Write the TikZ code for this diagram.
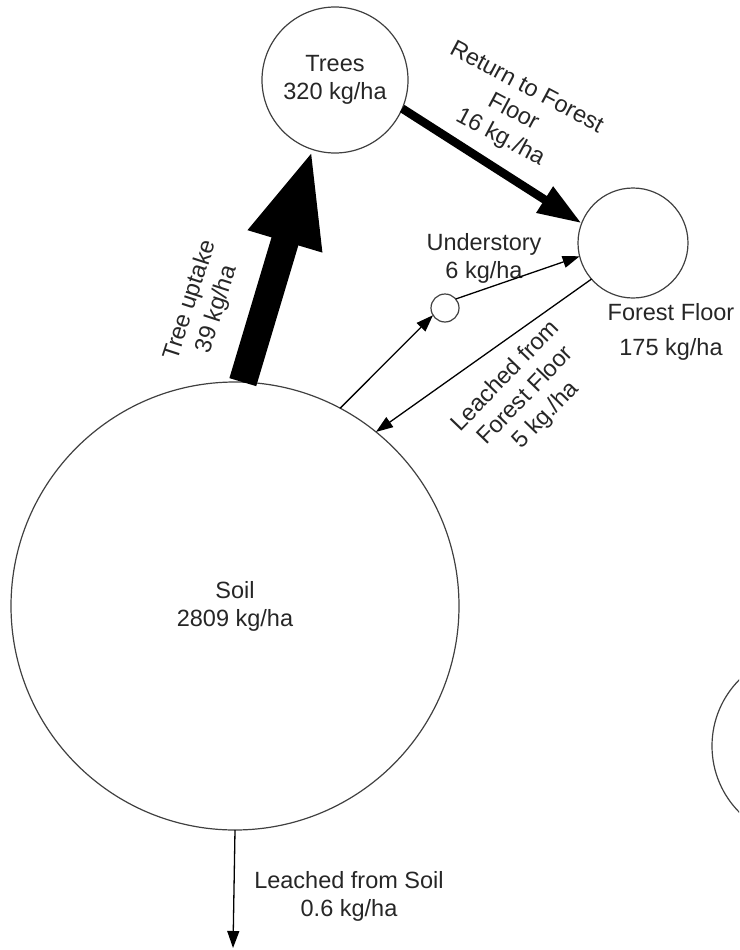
\documentclass[tikz,border=0pt]{standalone}
\usepackage{fontspec}
\setmainfont{Liberation Sans}
\usetikzlibrary{arrows.meta, positioning}

\begin{document}
\begin{tikzpicture}[x=1pt, y=-1pt, font=\fontsize{23.5}{28}\selectfont]
	% Styles
	\tikzstyle{pool} = [draw=black!75, line width=1.2pt, circle, inner sep=0pt, outer sep=0pt, align=center, text=black!85]
	\tikzstyle{lbl} = [align=center, text=black!85, inner sep=0pt]
	\tikzstyle{flow} = [line width=1.3pt, -{Triangle[length=17pt, width=12pt]}]
	\tikzstyle{midflow} = [line width=8.5pt, -{Triangle[length=44pt, width=29pt]}]
	\tikzstyle{bigflow} = [line width=28pt, -{Triangle[length=96pt, width=70pt]}]

	\clip (0,0) rectangle (739,950);

	% Nodes
	\node (trees) [pool, minimum size=146pt] at (335,80) {Trees\\320 kg/ha};
	\node (floor) [pool, minimum size=110pt] at (633,243) {};
	\node (under) [pool, minimum size=28pt] at (445,308) {};
	\node (soil) [pool, minimum size=448pt] at (235,606) {Soil\\2809 kg/ha};
	\node (other) [pool, minimum size=188pt] at (806,746) {};
	\coordinate (out) at (233,948);

	\node (floorlbl) [lbl] at (671,332) {Forest Floor\\[7pt]175 kg/ha};
	\node (underlbl) [lbl] at (484,258) {Understory\\6 kg/ha};
	\node (returnlbl) [lbl, rotate=-28] at (513,113) {Return to Forest\\Floor\\16 kg./ha};
	\node (uptakelbl) [lbl, rotate=72] at (204,305) {Tree uptake\\39 kg/ha};
	\node (leachfflbl) [lbl, rotate=46] at (526,396) {Leached from\\Forest Floor\\5 kg./ha};
	\node (leachsoillbl) [lbl] at (349,896) {Leached from Soil\\0.6 kg/ha};

	% Connections
	\draw [bigflow] (soil.88) -- (trees.-108);
	\draw [midflow] (trees.-23) -- (floor.159);
	\draw [flow] (soil.62) -- (under.211);
	\draw [flow] (under.40) -- (floor.194);
	\draw [flow] (floor.221) -- (soil.51);
	\draw [flow] (soil.south) -- (out);
\end{tikzpicture}
\end{document}
